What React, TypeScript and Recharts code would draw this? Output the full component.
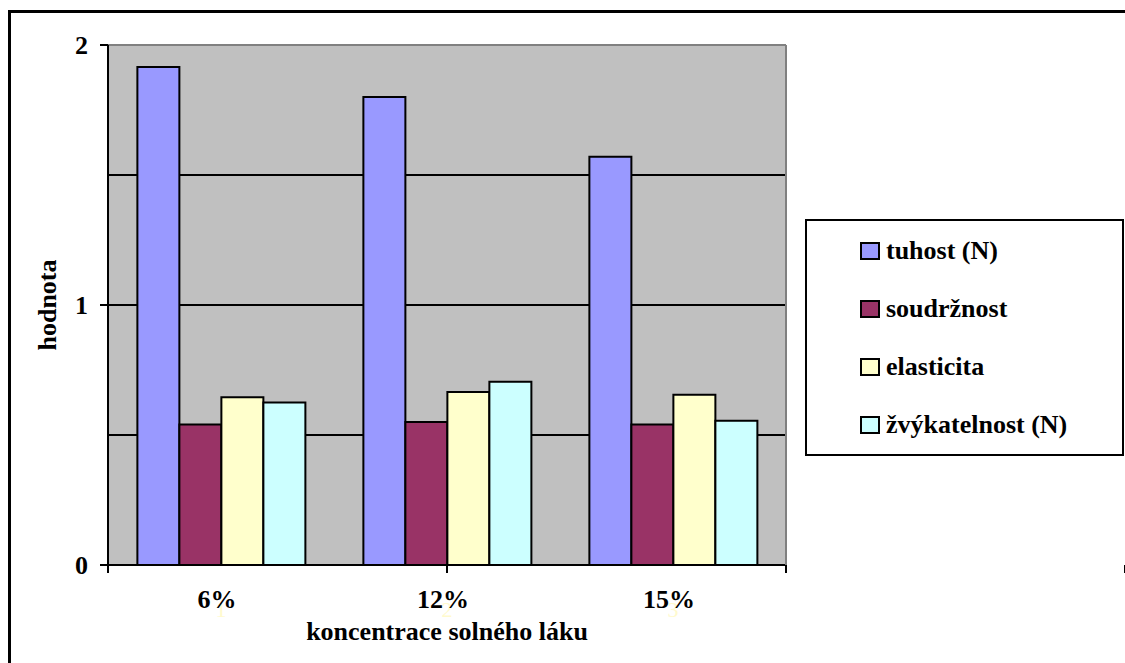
import { BarChart, Bar, XAxis, YAxis, CartesianGrid } from "recharts";

const categories = ["6%", "12%", "15%"];
const tuhost = [1.915, 1.8, 1.57];
const soudrznost = [0.54, 0.55, 0.54];
const elasticita = [0.645, 0.665, 0.655];
const zvykatelnost = [0.625, 0.705, 0.555];

const yTicks = [0, 1, 2];
const gridValues = [0.5, 1, 1.5];
const boundaryTicks = [0, 1, 2, 3];

const series = [
  { key: "tuhost", name: "tuhost (N)", color: "#9999ff", values: tuhost },
  { key: "soudrznost", name: "soudržnost", color: "#993366", values: soudrznost },
  { key: "elasticita", name: "elasticita", color: "#ffffcc", values: elasticita },
  { key: "zvykatelnost", name: "žvýkatelnost (N)", color: "#ccffff", values: zvykatelnost },
];

const data = categories.map((name, i) => {
  const row: Record<string, string | number> = { name };
  series.forEach((s) => (row[s.key] = s.values[i]));
  return row;
});

const FONT = "'Liberation Serif', 'Times New Roman', serif";

function CategoryTick(props: any) {
  const { x, y, payload, index } = props;
  return (
    <g>
      <text x={x} y={y + 43} textAnchor="middle" fontFamily={FONT} fontSize={22} fill="#fffacd">
        {index + 1}
      </text>
      <text x={x - 4} y={y + 34} textAnchor="middle" fontFamily={FONT} fontSize={26} fontWeight="bold" fill="#000">
        {payload.value}
      </text>
    </g>
  );
}

function YTitle(props: any) {
  const vb = props.viewBox;
  const cx = vb.x - 1;
  const cy = vb.y + vb.height / 2;
  return (
    <text
      x={cx}
      y={cy}
      transform={`rotate(-90, ${cx}, ${cy})`}
      textAnchor="middle"
      dominantBaseline="central"
      fontFamily={FONT}
      fontSize={26}
      fontWeight="bold"
      fill="#000"
    >
      hodnota
    </text>
  );
}

export default function App() {
  return (
    <div style={{ position: "absolute", left: 0, top: 0, width: 1125, height: 663, overflow: "hidden", background: "#fff" }}>
      <div
        style={{
          position: "absolute",
          left: 8,
          top: 10,
          width: 1200,
          height: 700,
          borderTop: "3px solid #000",
          borderLeft: "3px solid #000",
        }}
      />
      <div style={{ position: "absolute", left: 0, top: 0 }}>
        <BarChart
          width={1125}
          height={663}
          data={data}
          margin={{ top: 44, right: 338, bottom: 18, left: 48 }}
          barCategoryGap="13%"
          barGap={0}
        >
          <CartesianGrid
            vertical={false}
            horizontalValues={gridValues}
            fill="#c0c0c0"
            fillOpacity={1}
            stroke="#000"
            strokeWidth={2}
          />
          {/* boundary ticks between categories */}
          <XAxis
            type="number"
            domain={[0, 3]}
            ticks={boundaryTicks}
            interval={0}
            height={1}
            tick={() => <g />}
            tickSize={8}
            axisLine={{ stroke: "#000", strokeWidth: 2 }}
            tickLine={{ stroke: "#000", strokeWidth: 2 }}
          />
          <XAxis
            xAxisId="cat"
            dataKey="name"
            height={79}
            axisLine={false}
            tickLine={false}
            tick={<CategoryTick />}
            interval={0}
            label={{
              value: "koncentrace solného láku",
              position: "insideBottom",
              offset: 5,
              style: { fontFamily: FONT, fontSize: 26, fontWeight: "bold", fill: "#000" },
            }}
          />
          <XAxis
            xAxisId="top"
            dataKey="name"
            orientation="top"
            height={1}
            tick={false}
            tickLine={false}
            axisLine={{ stroke: "#808080", strokeWidth: 2 }}
          />
          <YAxis
            domain={[0, 2]}
            ticks={yTicks}
            width={60}
            tickSize={8}
            tickMargin={12}
            axisLine={{ stroke: "#000", strokeWidth: 2 }}
            tickLine={{ stroke: "#000", strokeWidth: 2 }}
            tick={{ fontFamily: FONT, fontSize: 26, fontWeight: "bold", fill: "#000" }}
            label={<YTitle />}
          />
          <YAxis
            yAxisId="right"
            orientation="right"
            domain={[0, 2]}
            width={1}
            tick={false}
            tickLine={false}
            axisLine={{ stroke: "#808080", strokeWidth: 2 }}
          />
          {series.map((s) => (
            <Bar
              key={s.key}
              xAxisId="cat"
              dataKey={s.key}
              name={s.name}
              fill={s.color}
              stroke="#000"
              strokeWidth={2}
              isAnimationActive={false}
            />
          ))}
        </BarChart>
      </div>
      <div
        style={{
          position: "absolute",
          left: 805,
          top: 219,
          width: 315,
          height: 233,
          border: "2px solid #000",
          background: "#fff",
          fontFamily: FONT,
          fontWeight: "bold",
          fontSize: 26,
        }}
      >
        {series.map((s, i) => (
          <div
            key={s.key}
            style={{
              position: "absolute",
              left: 53,
              top: 15 + i * 58,
              height: 30,
              display: "flex",
              alignItems: "center",
              whiteSpace: "nowrap",
            }}
          >
            <span
              style={{
                display: "inline-block",
                width: 16,
                height: 14,
                background: s.color,
                border: "2px solid #000",
                marginRight: 6,
              }}
            />
            <span>{s.name}</span>
          </div>
        ))}
      </div>
    </div>
  );
}
